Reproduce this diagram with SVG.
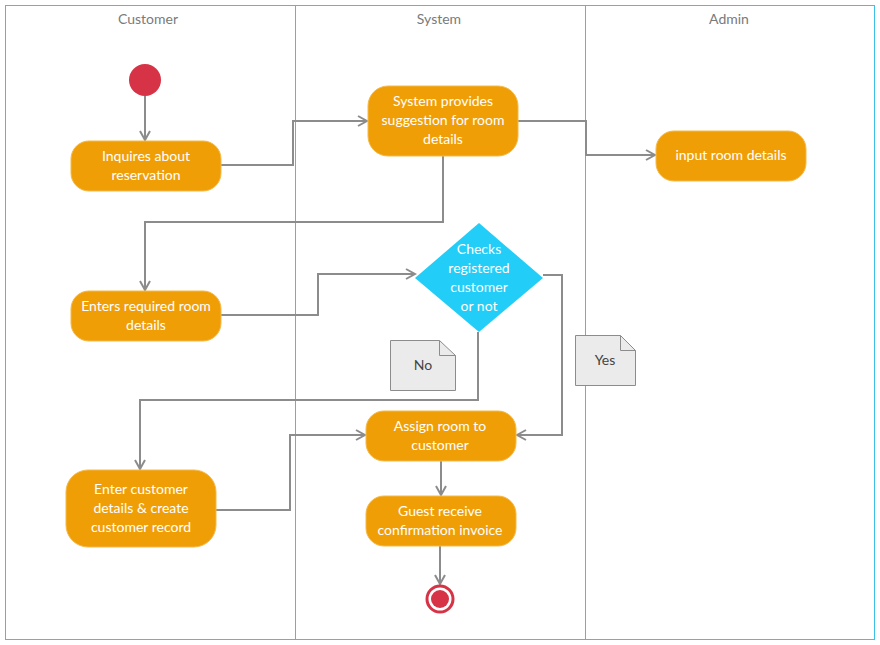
<svg xmlns="http://www.w3.org/2000/svg" width="880" height="645" viewBox="0 0 880 645">
<style>
.lane{fill:none;stroke:#3ec1e6;stroke-width:1}
.title{font-family:Lato,"Liberation Sans",sans-serif;font-size:14px;fill:#7a7a7a;text-anchor:middle}
.act{fill:#f09e06;stroke:#f5b94a;stroke-width:1}
.t{font-family:Lato,"Liberation Sans",sans-serif;font-size:14px;fill:#ffffff;text-anchor:middle}
.note{fill:#ebebeb;stroke:#8c8c8c;stroke-width:1}
.nt{font-family:Lato,"Liberation Sans",sans-serif;font-size:14px;fill:#444;text-anchor:middle}
.c{fill:none;stroke:#8c8c8c;stroke-width:2;marker-end:url(#arr)}
</style>
<defs>
<marker id="arr" viewBox="0 0 12 12" refX="10" refY="6" markerWidth="12" markerHeight="12" markerUnits="userSpaceOnUse" orient="auto">
<path d="M1,1 L10,6 L1,11" fill="none" stroke="#8c8c8c" stroke-width="2"/>
</marker>
</defs>
<rect x="0" y="0" width="880" height="645" fill="#ffffff"/>
<g id="lanes">
<rect class="lane" x="5.5" y="5.5" width="869" height="634"/>
<line class="lane" x1="295.5" y1="5" x2="295.5" y2="639"/>
<line class="lane" x1="585.5" y1="5" x2="585.5" y2="639"/>
<text class="title" x="148" y="24">Customer</text>
<text class="title" x="439" y="24">System</text>
<text class="title" x="729" y="24">Admin</text>
</g>
<g id="connectors">
<path class="c" d="M145,96 V140"/>
<path class="c" d="M221,165 H293 V121 H367"/>
<path class="c" d="M443,156 V222 H145 V290"/>
<path class="c" d="M518,121 H586 V155 H655"/>
<path class="c" d="M221,315 H318 V274 H415"/>
<path class="c" d="M478,332 V400 H140 V469"/>
<path class="c" d="M543,275 H562 V435 H517"/>
<path class="c" d="M216,510 H290 V435 H365"/>
<path class="c" d="M441,461 V495"/>
<path class="c" d="M440,546 V584"/>
</g>
<g id="start"><circle cx="145" cy="80" r="16" fill="#d63346"/></g>
<g id="inquires">
<rect class="act" x="71" y="141" width="150" height="50" rx="18"/>
<text class="t" x="146" y="161">Inquires about</text>
<text class="t" x="146" y="180">reservation</text>
</g>
<g id="suggest">
<rect class="act" x="368" y="86" width="150" height="70" rx="20"/>
<text class="t" x="443" y="106">System provides</text>
<text class="t" x="443" y="125">suggestion for room</text>
<text class="t" x="443" y="144">details</text>
</g>
<g id="input">
<rect class="act" x="656" y="131" width="150" height="50" rx="18"/>
<text class="t" x="731" y="160">input room details</text>
</g>
<g id="enters">
<rect class="act" x="71" y="291" width="150" height="50" rx="18"/>
<text class="t" x="146" y="311">Enters required room</text>
<text class="t" x="146" y="330">details</text>
</g>
<g id="decision">
<polygon points="479,223 543,278 479,332 415,278" fill="#22cdf7"/>
<text class="t" x="479" y="254">Checks</text>
<text class="t" x="479" y="273">registered</text>
<text class="t" x="479" y="292">customer</text>
<text class="t" x="479" y="311">or not</text>
</g>
<g id="noteNo">
<path class="note" d="M390.5,340.5 H439.5 L455.5,355.5 V390.5 H390.5 Z"/>
<path d="M439.5,340.5 V355.5 H455.5" fill="none" stroke="#8c8c8c"/>
<text class="nt" x="423" y="370">No</text>
</g>
<g id="noteYes">
<path class="note" d="M575.5,335.5 H620.5 L635.5,350.5 V385.5 H575.5 Z"/>
<path d="M620.5,335.5 V350.5 H635.5" fill="none" stroke="#8c8c8c"/>
<text class="nt" x="605" y="365">Yes</text>
</g>
<g id="assign">
<rect class="act" x="366" y="411" width="150" height="50" rx="18"/>
<text class="t" x="440" y="431">Assign room to</text>
<text class="t" x="440" y="450">customer</text>
</g>
<g id="guest">
<rect class="act" x="366" y="496" width="150" height="50" rx="18"/>
<text class="t" x="440" y="516">Guest receive</text>
<text class="t" x="440" y="535">confirmation invoice</text>
</g>
<g id="enterCustomer">
<rect class="act" x="66" y="470" width="150" height="77" rx="22"/>
<text class="t" x="141" y="494">Enter customer</text>
<text class="t" x="141" y="513">details &amp; create</text>
<text class="t" x="141" y="532">customer record</text>
</g>
<g id="end">
<circle cx="440" cy="599" r="13" fill="#ffffff" stroke="#d63346" stroke-width="3"/>
<circle cx="440" cy="599" r="9" fill="#d63346"/>
</g>
</svg>
